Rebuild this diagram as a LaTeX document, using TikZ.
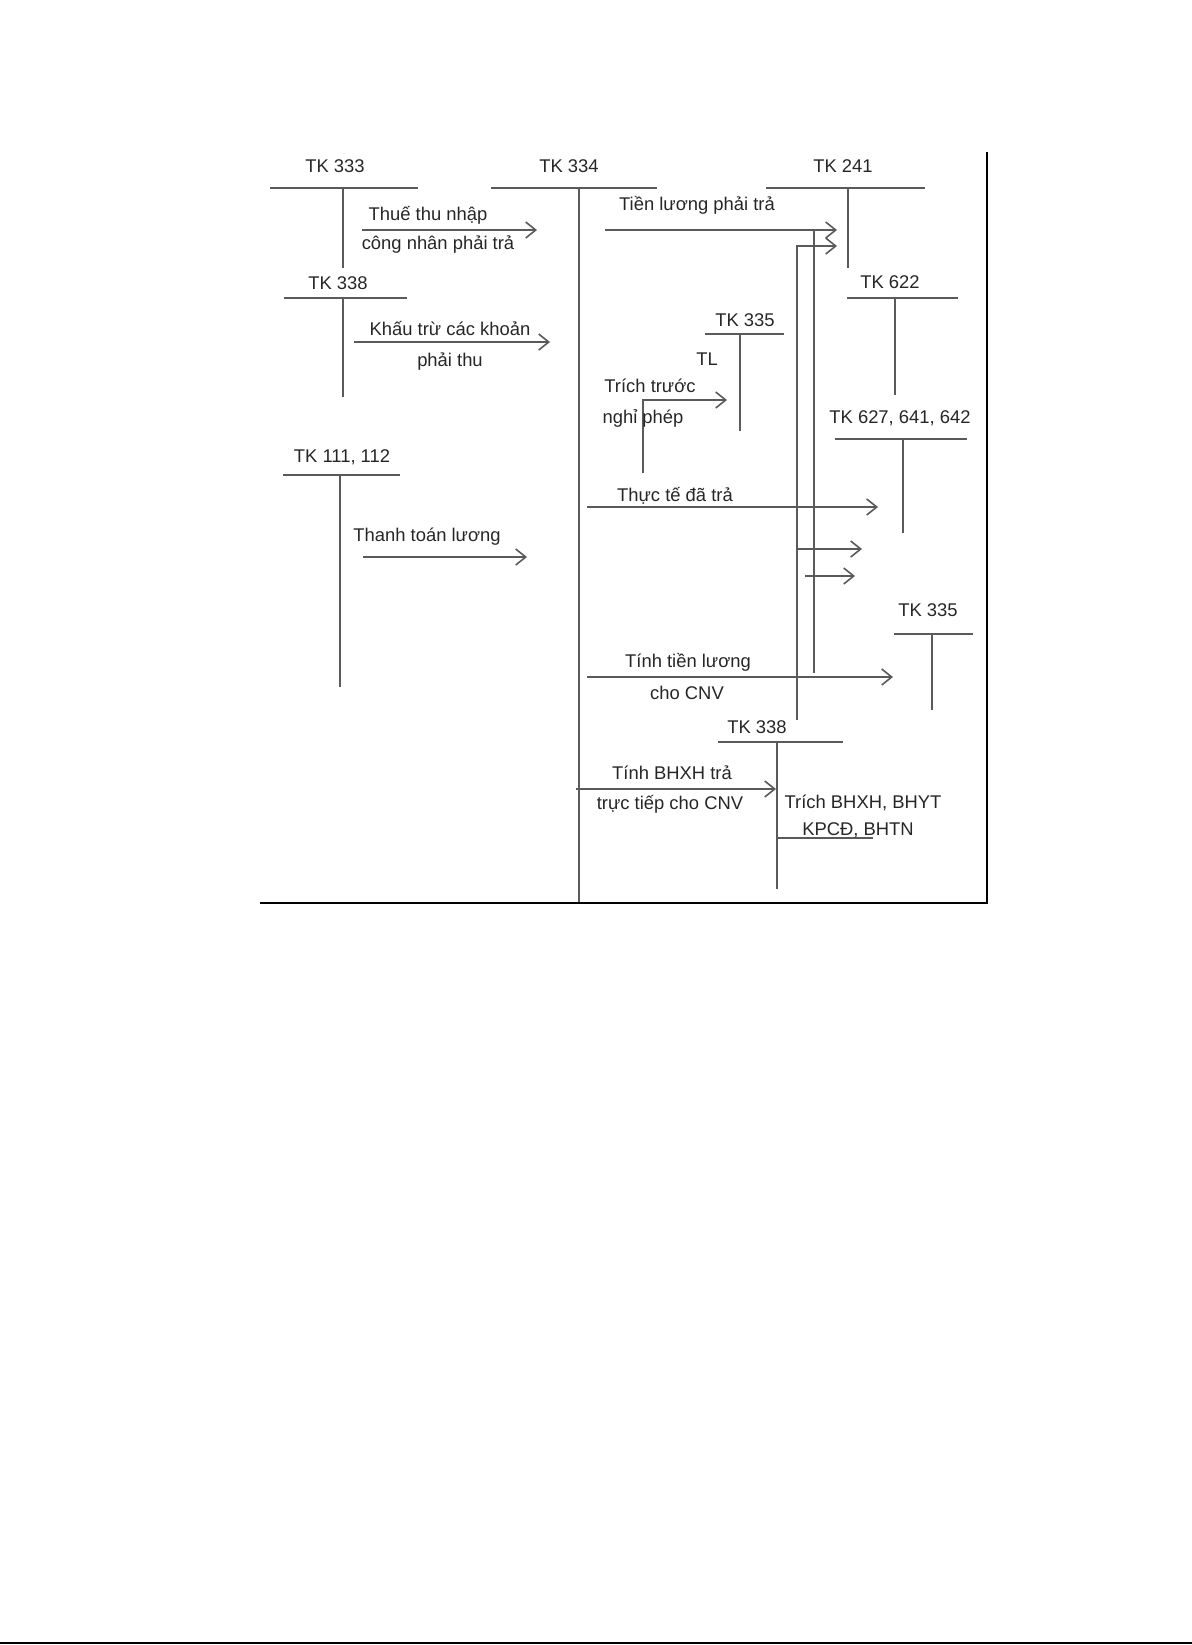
\documentclass[tikz,border=0pt]{standalone}
\usepackage{fontspec}
\setmainfont{Liberation Sans}
\usepackage{tikz}
\usetikzlibrary{positioning,arrows.meta}
\definecolor{ln}{HTML}{5A5A5A}
\definecolor{txt}{HTML}{262626}
\tikzset{
  >={Straight Barb[length=5pt,width=8pt]},
  tk/.style={inner sep=0pt, text=txt, font=\fontsize{9.2pt}{11pt}\selectfont},
  lab/.style={tk},
  tline/.style={draw=ln, line width=0.8pt},
  l/.style={->, draw=ln, line width=0.8pt},
  frm/.style={draw=black, line width=0.8pt},
}
\begin{document}
\begin{tikzpicture}[x=0.5pt,y=-0.5pt]
  \useasboundingbox (0,0) rectangle (1192,1645);
  % T accounts: label, cross line, stem
  \node[tk] (tk333) at (335,166) {TK 333};
  \draw[tline] (270,188) -- (418,188) (343,188) -- (343,268);
  \node[tk] (tk334) at (569,166) {TK 334};
  \draw[tline] (491,188) -- (657,188) (579,188) -- (579,903);
  \node[tk] (tk241) at (843,166) {TK 241};
  \draw[tline] (766,188) -- (925,188) (848,188) -- (848,268);
  \node[tk] (tk338a) at (338,283) {TK 338};
  \draw[tline] (284,298) -- (407,298) (343,298) -- (343,397);
  \node[tk] (tk622) at (890,282) {TK 622};
  \draw[tline] (847,298) -- (958,298) (895,298) -- (895,395);
  \node[tk] (tk335a) at (745,320) {TK 335};
  \draw[tline] (705,334) -- (784,334) (740,334) -- (740,431);
  \node[tk] (tk111) at (342,457) {TK 111, 112};
  \draw[tline] (283,475) -- (400,475) (340,475) -- (340,687);
  \node[tk] (tk627) at (900,418) {TK 627, 641, 642};
  \draw[tline] (835,439) -- (967,439) (903,439) -- (903,533);
  \node[tk] (tk335b) at (928,610) {TK 335};
  \draw[tline] (894,634) -- (973,634) (932,634) -- (932,710);
  \node[tk] (tk338b) at (757,727) {TK 338};
  \draw[tline] (718,742) -- (843,742) (777,742) -- (777,889);
  % arrow ends
  \coordinate (a1) at (362,230); \coordinate (a2) at (537,230);
  \coordinate (b1) at (354,342); \coordinate (b2) at (550,342);
  \coordinate (c1) at (363,557); \coordinate (c2) at (527,557);
  \coordinate (d1) at (605,230); \coordinate (d2) at (837,230);
  \coordinate (e0) at (797,720); \coordinate (e1) at (797,246); \coordinate (e2) at (837,246);
  \coordinate (f0) at (814,230); \coordinate (f1) at (814,673);
  \coordinate (g0) at (643,473); \coordinate (g1) at (643,400); \coordinate (g2) at (727,400);
  \coordinate (h1) at (587,507); \coordinate (h2) at (878,507);
  \coordinate (i1) at (797,549); \coordinate (i2) at (862,549);
  \coordinate (j1) at (805,576); \coordinate (j2) at (855,576);
  \coordinate (k1) at (587,677); \coordinate (k2) at (893,677);
  \coordinate (m1) at (576,789); \coordinate (m2) at (776,789);
  \coordinate (n1) at (777,838); \coordinate (n2) at (873,838);
  \draw[l](a1)--(a2);\draw[l](b1)--(b2);\draw[l](c1)--(c2);\draw[l](d1)--(d2);
  \draw[l](e0)--(e1)--(e2);\draw[tline](f0)--(f1);
  \draw[l](g0)--(g1)--(g2);\draw[l](h1)--(h2);\draw[l](i1)--(i2);\draw[l](j1)--(j2);
  \draw[l](k1)--(k2);\draw[l](m1)--(m2);\draw[tline](n1)--(n2);
  % texts
  \node[lab] (t1) at (428,215) {Thuế thu nhập};
  \node[lab] (t2) at (438,245) {công nhân phải trả};
  \node[lab] (t3) at (450,329) {Khấu trừ các khoản};
  \node[lab] (t4) at (450,362) {phải thu};
  \node[lab] (t5) at (427,537) {Thanh toán lương};
  \node[lab] (t6) at (697,205) {Tiền lương phải trả};
  \node[lab] (t7) at (707,359) {TL};
  \node[lab] (t8) at (650,386) {Trích trước};
  \node[lab] (t9) at (643,418) {nghỉ phép};
  \node[lab] (t10) at (675,496) {Thực tế đã trả};
  \node[lab] (t11) at (688,662) {Tính tiền lương};
  \node[lab] (t12) at (687,693) {cho CNV};
  \node[lab] (t13) at (672,773) {Tính BHXH trả};
  \node[lab] (t14) at (670,804) {trực tiếp cho CNV};
  \node[lab] (t15) at (863,803) {Trích BHXH, BHYT};
  \node[lab] (t16) at (858,830) {KPCĐ, BHTN};
  % frame
  \draw[frm] (987,152) -- (987,903) -- (260,903);
  \draw[frm] (0,1643) -- (1192,1643);
\end{tikzpicture}
\end{document}
